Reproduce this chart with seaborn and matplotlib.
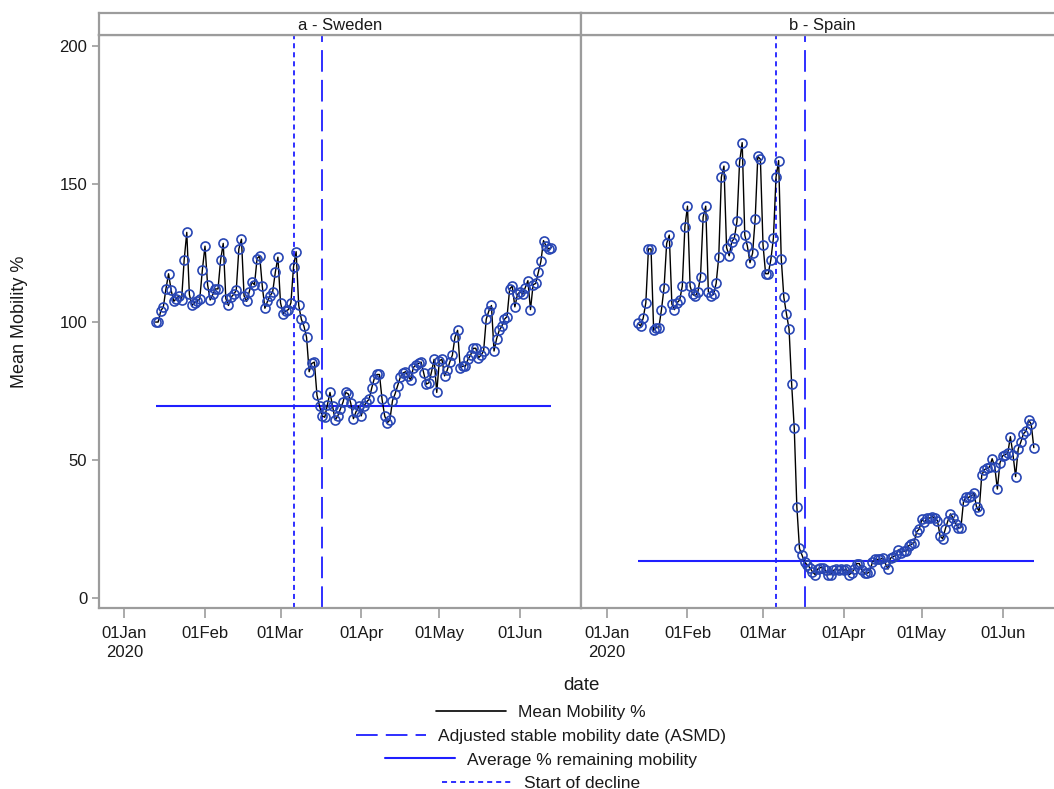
import matplotlib
matplotlib.use("Agg")
import matplotlib.pyplot as plt
import matplotlib.dates as mdates
from matplotlib.lines import Line2D
import numpy as np
import pandas as pd
import seaborn as sns

# ---------------------------------------------------------------- data
start_date = "2020-01-13"

sweden_mobility = [
    100, 100, 104, 105.5, 112, 117.5, 111.5,
    107.5, 108.5, 109.5, 108, 122.5, 132.5, 110,
    106, 107, 107.5, 108.5, 119, 127.5, 113.5,
    108, 110, 112, 112, 122.5, 128.5, 108.5,
    106, 109, 110, 111.5, 126.5, 130, 109.5,
    107.5, 111, 114.5, 113.5, 123, 124, 113,
    105, 107.5, 109.5, 111, 118, 123.5, 107,
    103, 104, 104.5, 107, 120, 125.5, 106,
    101, 98.5, 94.5, 82, 85, 85.5, 73.5,
    69.5, 66, 65.5, 70, 74.5, 69.5, 64.5,
    66, 68.5, 71, 74.5, 74, 70.5, 65,
    67.5, 69.5, 66, 69.5, 71, 72, 76,
    79.5, 81, 81, 72, 66, 63.5, 64.5,
    71.5, 74, 77, 80, 81.5, 82, 80.5,
    79, 83.5, 84.5, 85, 85.5, 81.5, 77.5,
    78, 82, 86.5, 74.5, 86, 86.5, 80.5,
    82.5, 85.5, 88, 94.5, 97, 83.5, 84,
    84, 86.5, 88, 90.5, 90.5, 87, 88,
    89.5, 101, 104, 106, 89.5, 94, 97,
    98.5, 101, 102, 112, 113, 105.5, 110,
    111, 110, 112.5, 115, 104.5, 113.5, 114,
    118, 122, 129.5, 127.5, 126.5, 127,
]

spain_mobility = [
    99.5, 98.5, 101.5, 107, 126.5, 126.5, 97,
    98, 98, 104.5, 112.5, 128.5, 131.5, 106.5,
    104.5, 107, 108, 113, 134.5, 142, 113,
    110, 109.5, 111, 116.5, 138, 142, 111,
    109.5, 110, 114, 123.5, 152.5, 156.5, 127,
    124, 129, 130.5, 136.5, 158, 165, 131.5,
    127.5, 121.5, 125, 137.5, 160, 159, 128,
    117.5, 117.5, 122.5, 130.5, 152.5, 158.5, 123,
    109, 103, 97.5, 77.5, 61.5, 33, 18,
    15.5, 13, 12, 11, 9.5, 8.5, 10.5,
    11, 11, 10, 8.5, 8.5, 10, 10.5,
    10, 10.5, 10, 10.5, 8.5, 9, 10.5,
    12.5, 12.5, 10, 9, 9, 9.5, 13,
    14, 14, 14, 14.5, 12.5, 10.5, 14.5,
    15, 15.5, 17.5, 16.5, 17, 17, 19,
    19.5, 20, 24, 25, 28.5, 27.5, 29,
    29, 29.5, 29, 28, 22.5, 21.5, 25,
    28, 30.5, 29, 27, 25.5, 25.5, 35,
    36.5, 36.5, 37, 38, 33, 31.5, 44.5,
    46.5, 47, 47.5, 50.5, 47.5, 39.5, 49,
    51.5, 52, 52.5, 58.5, 52, 44, 54,
    56.5, 59.5, 60.5, 64.5, 63, 54.5,
]

panel_titles = ["a - Sweden", "b - Spain"]
decline_start = ["2020-03-06", "2020-03-06"]
asmd_dates = ["2020-03-17", "2020-03-17"]
avg_remaining = [69.7, 13.5]

y_ticks = [0, 50, 100, 150, 200]
x_tick_dates = ["2020-01-01", "2020-02-01", "2020-03-01",
                "2020-04-01", "2020-05-01", "2020-06-01"]
x_tick_labels = ["01Jan\n2020", "01Feb", "01Mar", "01Apr", "01May", "01Jun"]

legend_labels = ["Mean Mobility %", "Adjusted stable mobility date (ASMD)",
                 "Average % remaining mobility", "Start of decline"]

# ---------------------------------------------------------------- style
sns.set_theme(style="white")
plt.rcParams["font.family"] = ["Liberation Sans", "DejaVu Sans"]
plt.rcParams["font.size"] = 12

FRAME = "#9c9c9c"
BLUE = "#1f1fff"
MARKER_EDGE = "#2846b4"
TEXT = "#1a1a1a"

W, H = 1054, 789
fig = plt.figure(figsize=(W / 100, H / 100), dpi=100)

frame_left = 98.5
panel_w = 482.5
plot_top, plot_bottom = 35, 608
head_top = 13

jan1 = mdates.date2num(pd.Timestamp("2020-01-01"))
xlim = (jan1 - 9.9, jan1 + 175.4)
ylim = (-3.6, 204)

series = [sweden_mobility, spain_mobility]

for i in range(2):
    left = (frame_left + i * panel_w) / W
    ax = fig.add_axes([left, (H - plot_bottom) / H, panel_w / W,
                       (plot_bottom - plot_top) / H])
    vals = series[i]
    df = pd.DataFrame({
        "date": pd.date_range(start_date, periods=len(vals), freq="D"),
        "mobility": vals,
    })

    ax.axvline(pd.Timestamp(decline_start[i]), color=BLUE, lw=1.3,
               dashes=(2.8, 2.2), zorder=1)
    ax.axvline(pd.Timestamp(asmd_dates[i]), color=BLUE, lw=1.3,
               dashes=(12, 4.5), zorder=1)
    ax.hlines(avg_remaining[i], df["date"].iloc[0], df["date"].iloc[-1],
              color=BLUE, lw=1.5, zorder=1)

    sns.lineplot(data=df, x="date", y="mobility", ax=ax, color="black",
                 lw=1.0, marker="o", markersize=6.5, markerfacecolor="none",
                 markeredgecolor=MARKER_EDGE, markeredgewidth=1.2, zorder=3)

    ax.set_xlim(xlim)
    ax.set_ylim(ylim)
    ax.set_xticks([pd.Timestamp(d) for d in x_tick_dates])
    ax.set_xticklabels(x_tick_labels, linespacing=1.35)
    ax.set_xlabel("")
    ax.set_ylabel("")
    ax.tick_params(axis="x", direction="out", length=7, width=1.2,
                   color=FRAME, labelsize=12, labelcolor=TEXT, pad=6,
                   bottom=True)
    if i == 0:
        ax.set_yticks(y_ticks)
        ax.tick_params(axis="y", direction="out", length=5, width=1.2,
                       color=FRAME, labelsize=12, labelcolor=TEXT, pad=3,
                       left=True)
    else:
        ax.set_yticks(y_ticks)
        ax.tick_params(axis="y", left=False, labelleft=False)
    for sp in ax.spines.values():
        sp.set_color(FRAME)
        sp.set_linewidth(1.6)
        sp.set_visible(True)

    # panel header
    hax = fig.add_axes([left, (H - plot_top) / H, panel_w / W,
                        (plot_top - head_top) / H])
    hax.set_xticks([])
    hax.set_yticks([])
    hax.set_facecolor("white")
    for sp in hax.spines.values():
        sp.set_color(FRAME)
        sp.set_linewidth(1.6)
    hax.text(0.5, 0.45, panel_titles[i], ha="center", va="center",
             fontsize=12, color=TEXT, transform=hax.transAxes)

fig.text(20 / W, 1 - ((plot_top + plot_bottom) / 2) / H, "Mean Mobility %",
         rotation=90, ha="center", va="center", fontsize=13, color=TEXT)
fig.text((frame_left + panel_w) / W, 1 - 686 / H, "date",
         ha="center", va="center", fontsize=13.5, color=TEXT)

# legend: one centred row per entry
handles = [
    Line2D([], [], color="black", lw=1.2),
    Line2D([], [], color=BLUE, lw=1.3, dashes=(12, 4.5)),
    Line2D([], [], color=BLUE, lw=1.5),
    Line2D([], [], color=BLUE, lw=1.3, dashes=(2.8, 2.2)),
]
row_y = [712, 736, 760, 783]
for h, lab, yy in zip(handles, legend_labels, row_y):
    fig.legend(handles=[h], labels=[lab], loc="center",
               bbox_to_anchor=(541 / W, 1 - yy / H), frameon=False,
               fontsize=12.5, handlelength=4.0, handletextpad=0.7,
               borderpad=0, labelcolor=TEXT)

fig.savefig("out.png", dpi=100)
